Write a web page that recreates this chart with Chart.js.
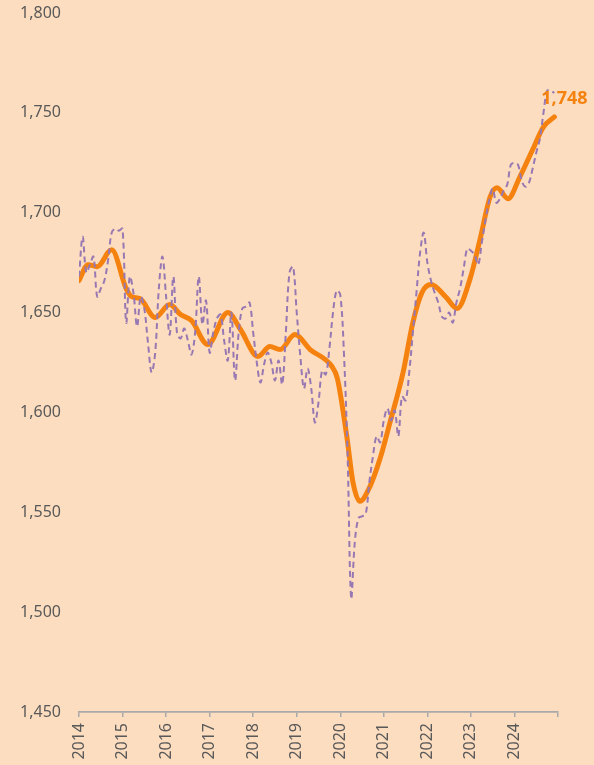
<!DOCTYPE html>
<html>
<head>
<meta charset="utf-8">
<script src="https://cdn.jsdelivr.net/npm/chart.js@4"></script>
<style>
  html, body { margin: 0; padding: 0; background: #FDDDBF; }
  canvas { display: block; }
</style>
</head>
<body>
<canvas id="chart" width="594" height="765"></canvas>
<script>
// year ticks sit at the start of each year (month index 0, 12, ...)
const yearLabels = ['2014', '2015', '2016', '2017', '2018', '2019', '2020', '2021', '2022', '2023', '2024'];
const yTicks = [1450, 1500, 1550, 1600, 1650, 1700, 1750, 1800];

// monthly values, Jan 2014 .. Dec 2024 (dashed purple)
const monthlyValues = [
  1668, 1688, 1670, 1674, 1678, 1658, 1662, 1666, 1676, 1690, 1692, 1691,
  1692, 1645, 1668, 1660, 1643, 1658, 1652, 1635, 1620, 1630, 1662, 1678,
  1658, 1639, 1668, 1640, 1637, 1642, 1636, 1629, 1640, 1668, 1644, 1656,
  1630, 1640, 1647, 1649, 1636, 1626, 1650, 1616, 1640, 1652, 1653, 1655,
  1640, 1625, 1615, 1624, 1630, 1625, 1616, 1626, 1614, 1640, 1670, 1673,
  1650, 1628, 1612, 1622, 1612, 1595, 1605, 1621, 1619, 1632, 1650, 1661,
  1659, 1630, 1580, 1507, 1535, 1547, 1548, 1549, 1565, 1578, 1588, 1585,
  1596, 1602, 1596, 1601, 1588, 1608, 1606, 1620, 1640, 1660, 1680, 1690,
  1675, 1666, 1660, 1655, 1648, 1647, 1650, 1645, 1655, 1662, 1672, 1682,
  1681, 1679, 1674, 1685, 1696, 1706, 1712, 1705, 1707, 1711, 1714, 1724,
  1725, 1724, 1716, 1713, 1715, 1722, 1730, 1737, 1750, 1761, 1761, 1760
];

// smoothed trend (orange), read at its turning points
const trendMonths = [0, 2.5, 5, 9, 13, 14.5, 16.8, 21, 25, 28, 31, 35.5, 41, 44.5, 49.3, 52.6, 55.4, 59.5,
  63.7, 69.7, 71.2, 73.8, 75.5, 77.4, 80.2, 82.9, 85.7, 89.3, 92, 94.5, 97, 101, 104.2, 107.7, 110.5,
  113.3, 115.2, 118.2, 121.5, 125, 128, 131];
const trendValues = [1666, 1674, 1673, 1681.5, 1662, 1658, 1657, 1647.5, 1654, 1649, 1646, 1634, 1650, 1641.5, 1628, 1633, 1631.5, 1639,
  1631.5, 1623, 1617, 1588, 1565, 1555.5, 1563, 1576.5, 1595, 1620, 1645, 1660, 1664, 1658, 1652, 1666.5, 1686.5,
  1708, 1712.5, 1707, 1718, 1731.5, 1743, 1748];

const orange = '#F5820F';
const purple = '#9778B3';
const gray = '#595959';
const font = '"Noto Sans", sans-serif';

const bgPlugin = {
  id: 'bg',
  beforeDraw(chart) {
    const ctx = chart.ctx;
    ctx.save();
    ctx.fillStyle = '#FDDDBF';
    ctx.fillRect(0, 0, chart.width, chart.height);
    ctx.restore();
  }
};

const endLabel = {
  id: 'endLabel',
  afterDatasetsDraw(chart) {
    const meta = chart.getDatasetMeta(1);
    const pt = meta.data[meta.data.length - 1];
    const ctx = chart.ctx;
    ctx.save();
    ctx.font = 'bold 18px ' + font;
    ctx.fillStyle = orange;
    ctx.textAlign = 'center';
    ctx.textBaseline = 'middle';
    ctx.fillText(trendValues[trendValues.length - 1].toLocaleString('en-US'), pt.x + 10, pt.y - 18);
    ctx.restore();
  }
};

new Chart(document.getElementById('chart'), {
  type: 'line',
  data: {
    datasets: [
      {
        label: 'Monthly',
        data: monthlyValues.map((v, i) => ({ x: i, y: v })),
        borderColor: purple,
        borderWidth: 2,
        borderDash: [6, 4],
        pointRadius: 0,
        tension: 0.35,
        fill: false
      },
      {
        label: 'Trend',
        data: trendMonths.map((m, i) => ({ x: m, y: trendValues[i] })),
        borderColor: orange,
        borderWidth: 5,
        borderCapStyle: 'round',
        pointRadius: 0,
        cubicInterpolationMode: 'monotone',
        fill: false
      }
    ]
  },
  options: {
    responsive: false,
    animation: false,
    layout: { padding: { top: 13, right: 36, left: 0, bottom: 0 } },
    plugins: {
      legend: { display: false },
      tooltip: { enabled: false }
    },
    scales: {
      x: {
        type: 'linear',
        min: 0,
        max: 132,
        afterBuildTicks: scale => {
          const t = yearLabels.map((_, i) => ({ value: i * 12 }));
          t.push({ value: 132 });
          scale.ticks = t;
        },
        afterFit: scale => {
          scale.height = 53;
          scale.paddingLeft = 0;
          scale.paddingRight = 0;
        },
        grid: { drawOnChartArea: false, drawTicks: true, tickLength: 5, color: '#A9A9A9', lineWidth: 1.5 },
        border: { display: true, color: '#A9A9A9', width: 1.8 },
        ticks: {
          autoSkip: false,
          minRotation: 90,
          maxRotation: 90,
          padding: 6,
          color: gray,
          font: { family: font, size: 16 },
          callback: v => (v % 12 === 0 && v / 12 < yearLabels.length) ? yearLabels[v / 12] : ''
        }
      },
      y: {
        min: yTicks[0],
        max: yTicks[yTicks.length - 1],
        afterBuildTicks: scale => { scale.ticks = yTicks.map(v => ({ value: v })); },
        afterFit: scale => {
          scale.width = 79;
          scale.paddingTop = 0;
          scale.paddingBottom = 0;
        },
        grid: { display: false, drawTicks: false },
        border: { display: false },
        ticks: {
          padding: 18,
          color: gray,
          font: { family: font, size: 16 },
          callback: v => v.toLocaleString('en-US')
        }
      }
    }
  },
  plugins: [bgPlugin, endLabel]
});
</script>
</body>
</html>
